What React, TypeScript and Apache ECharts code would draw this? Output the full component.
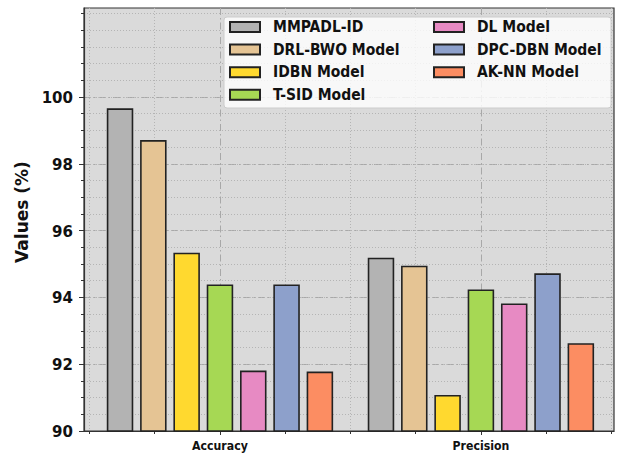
import React, { useEffect, useRef } from "react";
import * as echarts from "echarts";

// Metric groups along the x axis
const categories = ["Accuracy", "Precision"];

// Models in draw order
const models = [
  "MMPADL-ID",
  "DRL-BWO Model",
  "IDBN Model",
  "T-SID Model",
  "DL Model",
  "DPC-DBN Model",
  "AK-NN Model",
];

// Scores (%) per metric, one entry per model
const accuracyValues = [99.66, 98.71, 95.34, 94.39, 91.81, 94.39, 91.78];
const precisionValues = [95.19, 94.95, 91.08, 94.24, 93.82, 94.72, 92.63];

const modelColors = [
  "#b3b3b3",
  "#e5c494",
  "#ffd92f",
  "#a6d854",
  "#e78ac3",
  "#8da0cb",
  "#fc8d62",
];

// Tick positions
const yMajorTicks = [90, 92, 94, 96, 98, 100];
const yMinorTicks = [
  90, 90.5, 91, 91.5, 92, 92.5, 93, 93.5, 94, 94.5, 95, 95.5, 96, 96.5, 97,
  97.5, 98, 98.5, 99, 99.5, 100, 100.5, 101, 101.5, 102, 102.5,
];
const xMajorTicks = [0, 1];
const xMinorTicks = [-0.5, -0.25, 0.25, 0.5, 0.75, 1.25, 1.5];

const FONT = "DejaVu Sans";
const FONT_NARROW = "'DejaVu Sans Condensed', 'DejaVu Sans'";
const X_MIN = -0.521;
const X_MAX = 1.51;
const Y_MIN = 90;
const Y_MAX = 102.665;

export default function App() {
  const ref = useRef<HTMLDivElement>(null);

  useEffect(() => {
    if (!ref.current) return;
    const chart = echarts.init(ref.current, undefined, { renderer: "svg" });

    const series = models.map((name, i) => ({
      name,
      type: "bar",
      xAxisIndex: 0,
      yAxisIndex: 0,
      barWidth: 26.5,
      barGap: "25.7%",
      z: 2,
      itemStyle: {
        color: modelColors[i],
        borderColor: "#222222",
        borderWidth: 1.6,
      },
      data: [
        [0, accuracyValues[i]],
        [1, precisionValues[i]],
      ],
    }));

    const legendCommon = {
      orient: "vertical",
      top: 19,
      padding: 0,
      itemWidth: 30,
      itemHeight: 10,
      itemGap: 6.6,
      icon: "rect",
      z: 4,
      textStyle: {
        fontFamily: FONT_NARROW,
        fontWeight: "bold",
        fontSize: 15.5,
        color: "#111111",
        lineHeight: 16,
        padding: [0, 0, 0, 8],
      },
    };

    chart.setOption({
      animation: false,
      backgroundColor: "#ffffff",
      grid: {
        left: 84,
        top: 8,
        width: 530,
        height: 423,
        show: true,
        backgroundColor: "#dadada",
        borderColor: "#333333",
        borderWidth: 1.2,
        z: 0,
      },
      legend: [
        { ...legendCommon, left: 229, data: models.slice(0, 4) },
        { ...legendCommon, left: 433, data: models.slice(4) },
      ],
      graphic: {
        elements: [
          {
            type: "rect",
            z: 3,
            shape: { x: 224, y: 17, width: 387, height: 91, r: 3 },
            style: {
              fill: "rgba(255,255,255,0.8)",
              stroke: "#cccccc",
              lineWidth: 1,
            },
          },
        ],
      },
      xAxis: [
        {
          type: "value",
          min: X_MIN,
          max: X_MAX,
          position: "bottom",
          axisLine: { show: true, onZero: false, lineStyle: { color: "#333333", width: 1.2 } },
          axisTick: {
            show: true,
            customValues: xMajorTicks,
            length: 4,
            lineStyle: { color: "#333333" },
          },
          axisLabel: {
            customValues: xMajorTicks,
            formatter: (v: number) => categories[Math.round(v)] ?? "",
            fontFamily: FONT_NARROW,
            fontWeight: "bold",
            fontSize: 12.2,
            color: "#111111",
            margin: 9,
          },
          splitLine: {
            show: true,
            lineStyle: { color: "#a8a8a8", width: 1, type: [7, 3, 1.5, 3] },
          },
        },
        {
          type: "value",
          min: X_MIN,
          max: X_MAX,
          position: "bottom",
          axisLine: { show: false, onZero: false },
          axisTick: {
            show: true,
            customValues: xMinorTicks,
            length: 3,
            lineStyle: { color: "#333333" },
          },
          axisLabel: { show: false },
          splitLine: {
            show: true,
            lineStyle: { color: "#b4b4b4", width: 1, type: [1, 2] },
          },
        },
      ],
      yAxis: [
        {
          type: "value",
          min: Y_MIN,
          max: Y_MAX,
          position: "left",
          name: "Values (%)",
          nameLocation: "middle",
          nameGap: 50,
          nameTextStyle: {
            fontFamily: FONT,
            fontWeight: "bold",
            fontSize: 17,
            color: "#111111",
            padding: [0, 0, 0, 15],
          },
          axisLine: { show: true, onZero: false, lineStyle: { color: "#333333", width: 1.2 } },
          axisTick: {
            show: true,
            customValues: yMajorTicks,
            length: 5,
            lineStyle: { color: "#333333" },
          },
          axisLabel: {
            customValues: yMajorTicks,
            fontFamily: FONT_NARROW,
            fontWeight: "bold",
            fontSize: 16.7,
            color: "#111111",
            margin: 11,
          },
          splitLine: {
            show: true,
            lineStyle: { color: "#a8a8a8", width: 1, type: [7, 3, 1.5, 3] },
          },
        },
        {
          type: "value",
          min: Y_MIN,
          max: Y_MAX,
          position: "left",
          axisLine: { show: false, onZero: false },
          axisTick: {
            show: true,
            customValues: yMinorTicks,
            length: 3,
            lineStyle: { color: "#333333" },
          },
          axisLabel: { show: false },
          splitLine: {
            show: true,
            lineStyle: { color: "#b4b4b4", width: 1, type: [1, 2] },
          },
        },
      ],
      series,
    });

    return () => chart.dispose();
  }, []);

  return (
    <div
      ref={ref}
      style={{ position: "fixed", left: 0, top: 0, width: 623, height: 457 }}
    />
  );
}
